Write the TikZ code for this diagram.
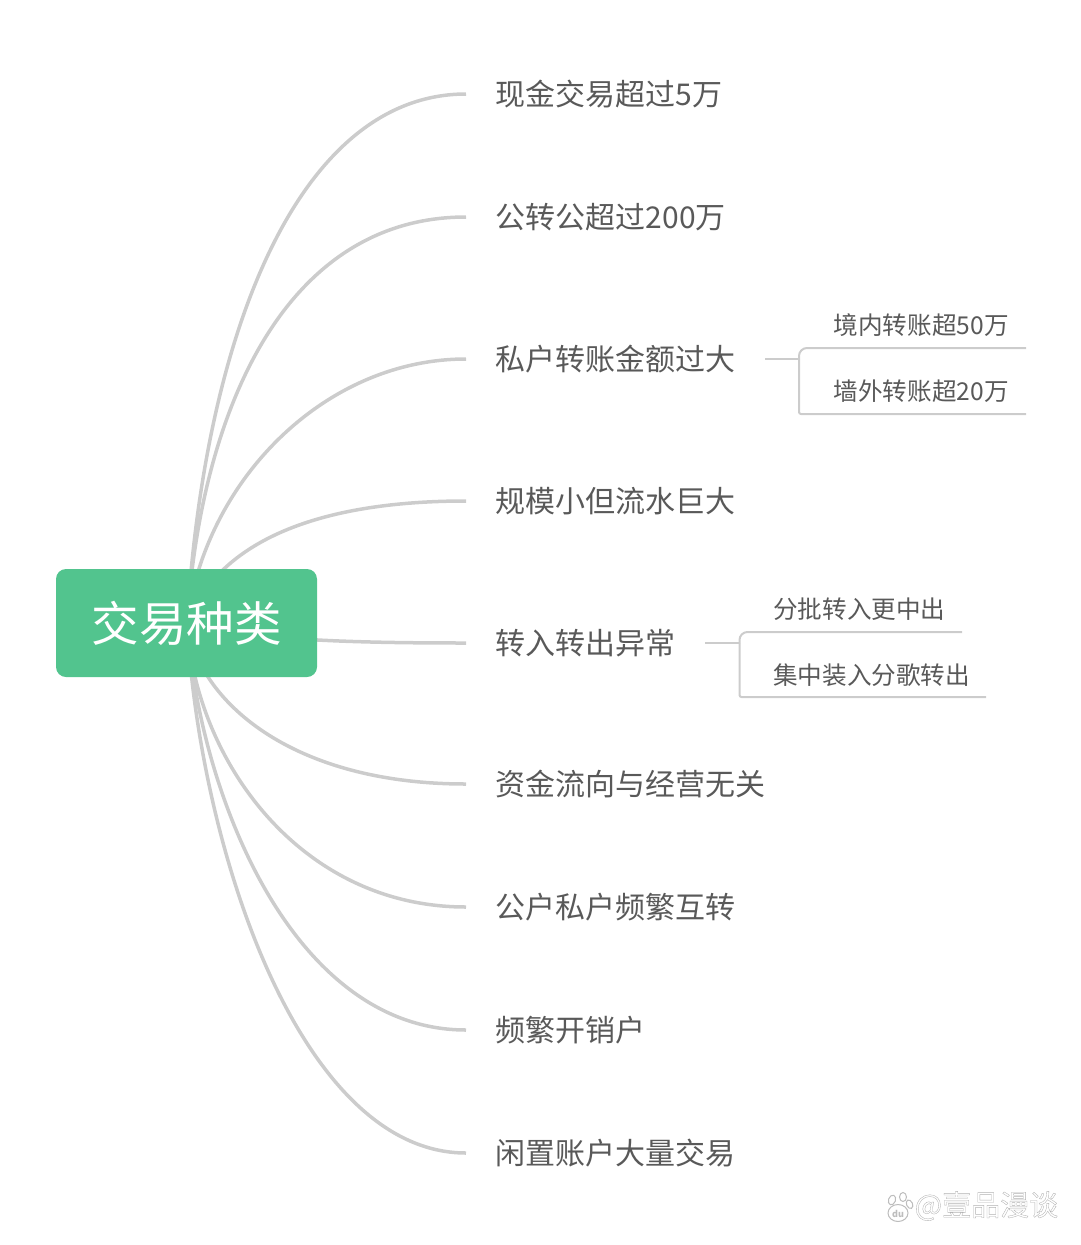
\documentclass[tikz,border=0pt]{standalone}
\usepackage{fontspec}
\setmainfont{Noto Sans CJK SC}
\newfontfamily\markfont[FakeBold=1.2]{Noto Sans CJK SC}
\definecolor{rootgreen}{HTML}{52C48E}
\definecolor{linegray}{HTML}{CCCCCC}
\definecolor{textgray}{HTML}{595959}
\definecolor{markgray}{HTML}{BDBDBD}
\tikzset{
  rootbox/.style={fill=rootgreen,text=white,rounded corners=10pt,inner sep=0pt,minimum width=261pt,minimum height=108pt,font=\fontsize{47.5}{47.5}\selectfont},
  maintext/.style={anchor=west,inner sep=0pt,text=textgray,font=\fontsize{30}{30}\selectfont},
  subtext/.style={anchor=west,inner sep=0pt,text=textgray,font=\fontsize{24.6}{24.6}\selectfont},
  branch/.style={draw=linegray,line width=3.5pt,line cap=butt},
  subbranch/.style={draw=linegray,line width=2pt},
  pawpart/.style={draw=markgray,fill=white,line width=1pt},
}
\begin{document}
\begin{tikzpicture}[x=1pt,y=-1pt]
\useasboundingbox (0,0) rectangle (1080,1245);
% text nodes
\node[maintext] (a1) at (495.5,94) {现金交易超过5万};
\node[maintext] (a2) at (495.5,217) {公转公超过200万};
\node[maintext] (a3) at (495.5,359) {私户转账金额过大};
\node[maintext] (a4) at (495.5,501) {规模小但流水巨大};
\node[maintext] (a5) at (495.5,643) {转入转出异常};
\node[maintext] (a6) at (495.5,784) {资金流向与经营无关};
\node[maintext] (a7) at (495.5,907) {公户私户频繁互转};
\node[maintext] (a8) at (495.5,1030) {频繁开销户};
\node[maintext] (a9) at (495.5,1153) {闲置账户大量交易};
\node[subtext] (b1) at (833.5,325) {境内转账超50万};
\node[subtext] (b2) at (833.5,391) {墙外转账超20万};
\node[subtext] (c1) at (773,609) {分批转入更中出};
\node[subtext] (c2) at (773,675) {集中装入分歌转出};
% free ends
\coordinate (r) at (187,623);
\foreach \n in {1,...,9}{\coordinate (e\n) at ([xshift=-29.5pt]a\n.west);}
\coordinate (b0) at (765,359);
\coordinate (bj) at (799,359);
\coordinate (b1e) at (1026,348);
\coordinate (b2e) at (1026,414);
\coordinate (c0) at (705,643);
\coordinate (cj) at (739.5,643);
\coordinate (c1e) at (962,632);
\coordinate (c2e) at (986,697);
% connectors
\draw[branch] (r) .. controls (205,330) and (300,94) .. (e1);
\draw[branch] (r) .. controls (202,400) and (290,217) .. (e2);
\draw[branch] (r) .. controls (205,480) and (325,359) .. (e3);
\draw[branch] (r) .. controls (222,535) and (330,501) .. (e4);
\draw[branch] (r) .. controls (250,640) and (350,643) .. (e5);
\draw[branch] (r) .. controls (198,700) and (290,784) .. (e6);
\draw[branch] (r) .. controls (195,760) and (300,907) .. (e7);
\draw[branch] (r) .. controls (200,800) and (295,1030) .. (e8);
\draw[branch] (r) .. controls (200,850) and (300,1153) .. (e9);
\draw[subbranch] (b0) -- (bj);
\draw[subbranch,rounded corners=8pt] (bj) |- (b1e);
\draw[subbranch,rounded corners=2pt] (bj) |- (b2e);
\draw[subbranch] (c0) -- (cj);
\draw[subbranch,rounded corners=8pt] (cj) |- (c1e);
\draw[subbranch,rounded corners=2pt] (cj) |- (c2e);
\node[rootbox] (root) at (186.5,623) {交易种类};
% watermark
\draw[pawpart,rotate around={-20:(892,1200)}] (892,1200) ellipse (3.5 and 5);
\draw[pawpart] (903,1197) ellipse (3.5 and 4.5);
\draw[pawpart,rotate around={25:(910,1204)}] (909.5,1204) ellipse (3 and 4.5);
\draw[pawpart] (898,1213) ellipse (10 and 8.5);
\node[inner sep=0pt,text=markgray,font=\fontsize{9}{9}\selectfont\bfseries] (paw) at (898,1214) {du};
\node[anchor=west,inner sep=0pt,text=white,font=\markfont\fontsize{29}{29}\selectfont] (mark) at (914.5,1206) {\special{pdf:code 0.7 G}@壹品漫谈};
\end{tikzpicture}
\end{document}
